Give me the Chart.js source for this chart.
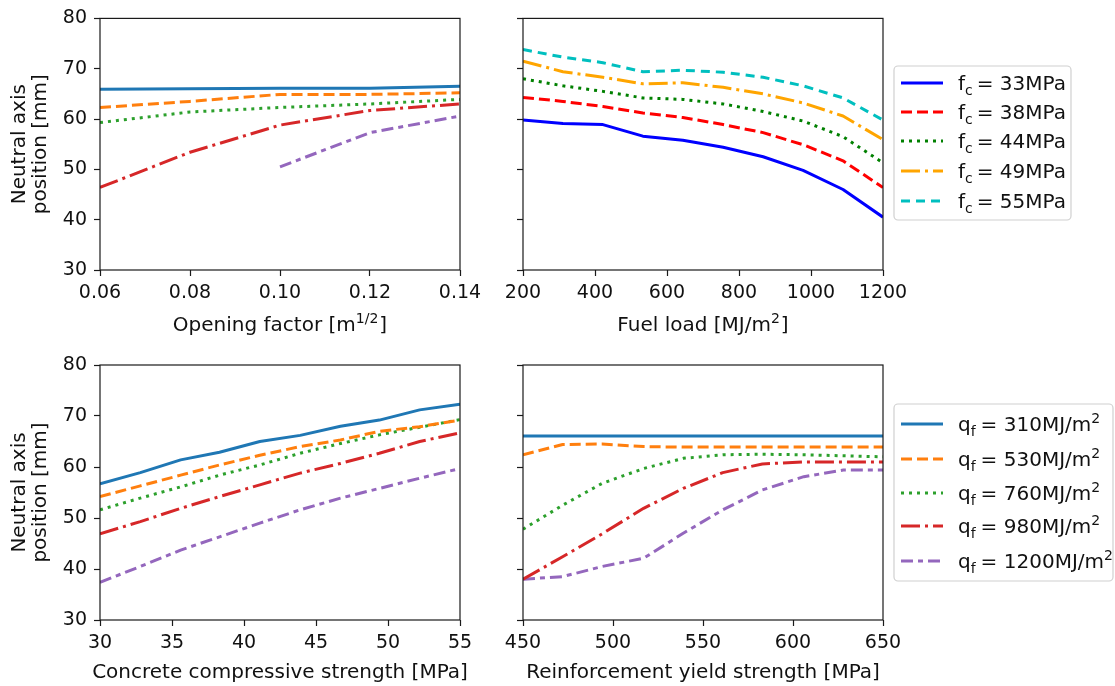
<!DOCTYPE html>
<html><head><meta charset="utf-8">
<script src="https://cdn.jsdelivr.net/npm/chart.js@4.4.1/dist/chart.umd.min.js"></script>
<style>
html,body{margin:0;padding:0;background:#fff;width:1115px;height:686px;overflow:hidden;}
canvas{position:absolute;}
</style></head><body>
<canvas id="cTL" width="490" height="340" style="left:0;top:0"></canvas>
<canvas id="cTR" width="625" height="340" style="left:490px;top:0"></canvas>
<canvas id="cBL" width="490" height="346" style="left:0;top:340px"></canvas>
<canvas id="cBR" width="625" height="346" style="left:490px;top:340px"></canvas>
<script>
// ---------- DATA ----------
const yTicks = [30, 40, 50, 60, 70, 80];

const openingFactor = [0.06, 0.08, 0.10, 0.12, 0.14];
const openingTickLabels = ['0.06', '0.08', '0.10', '0.12', '0.14'];
const of_q310  = [65.9, 66.0, 66.1, 66.1, 66.5];
const of_q530  = [62.3, 63.5, 64.9, 64.9, 65.2];
const of_q760  = [59.3, 61.4, 62.3, 63.0, 63.9];
const of_q980  = [46.4, 53.4, 58.8, 61.7, 63.0];
const of_q1200 = [null, null, 50.5, 57.3, 60.6];

const fuelLoad = [200, 311, 422, 533, 644, 756, 867, 978, 1089, 1200];
const fuelTicks = [200, 400, 600, 800, 1000, 1200];
const fl_fc33 = [59.8, 59.1, 58.9, 56.6, 55.8, 54.4, 52.5, 49.8, 46.0, 40.5];
const fl_fc38 = [64.3, 63.5, 62.5, 61.2, 60.3, 58.9, 57.3, 54.9, 51.7, 46.4];
const fl_fc44 = [68.0, 66.6, 65.5, 64.2, 63.9, 63.0, 61.5, 59.6, 56.5, 51.3];
const fl_fc49 = [71.5, 69.4, 68.3, 67.0, 67.2, 66.3, 65.0, 63.2, 60.6, 55.9];
const fl_fc55 = [73.8, 72.3, 71.2, 69.4, 69.7, 69.3, 68.3, 66.6, 64.2, 59.8];

const concreteStrength = [30, 32.8, 35.6, 38.3, 41.1, 43.9, 46.7, 49.4, 52.2, 55];
const concreteTicks = [30, 35, 40, 45, 50, 55];
const cs_q310  = [56.7, 58.9, 61.4, 62.9, 65.0, 66.2, 68.0, 69.2, 71.2, 72.3];
const cs_q530  = [54.2, 56.3, 58.4, 60.4, 62.3, 64.0, 65.3, 67.0, 67.9, 69.2];
const cs_q760  = [51.6, 53.9, 56.1, 58.4, 60.4, 62.7, 64.6, 66.3, 67.8, 69.3];
const cs_q980  = [46.9, 49.3, 51.9, 54.2, 56.5, 58.8, 60.7, 62.7, 65.0, 66.7];
const cs_q1200 = [37.4, 40.5, 43.7, 46.3, 49.0, 51.6, 53.9, 55.8, 57.8, 59.7];

const yieldStrength = [450, 472, 494, 517, 539, 561, 583, 606, 628, 650];
const yieldTicks = [450, 500, 550, 600, 650];
const ys_q310  = [66.1, 66.1, 66.1, 66.1, 66.1, 66.1, 66.1, 66.1, 66.1, 66.1];
const ys_q530  = [62.4, 64.4, 64.5, 64.0, 63.9, 63.9, 63.9, 63.9, 63.9, 63.9];
const ys_q760  = [47.8, 52.5, 56.8, 59.7, 61.7, 62.4, 62.5, 62.4, 62.2, 62.0];
const ys_q980  = [38.0, 42.4, 46.9, 51.9, 55.8, 58.9, 60.6, 61.0, 61.0, 61.0];
const ys_q1200 = [38.0, 38.5, 40.5, 42.1, 47.0, 51.6, 55.5, 58.1, 59.4, 59.4];

const fcValues = ['33', '38', '44', '49', '55'];
const qfValues = ['310', '530', '760', '980', '1200'];

// ---------- STYLES ----------
const FONT = "'DejaVu Sans', 'Liberation Sans', sans-serif";
const TICK_SIZE = 19, TITLE_SIZE = 20, LW = 3;
const DASH = { solid: [], dashed: [11, 5], dotted: [3, 5], dashdot: [19, 5, 3, 5], longshort: [12, 5, 5, 5], cyan: [9, 6] };
const qStyles = [
  { color: '#1f77b4', dash: DASH.solid },
  { color: '#ff7f0e', dash: DASH.dashed },
  { color: '#2ca02c', dash: DASH.dotted },
  { color: '#d62728', dash: DASH.dashdot },
  { color: '#9467bd', dash: DASH.longshort }
];
const fcStyles = [
  { color: '#0000ff', dash: DASH.solid },
  { color: '#ff0000', dash: DASH.dashed },
  { color: '#008000', dash: DASH.dotted },
  { color: '#ffa500', dash: DASH.dashdot },
  { color: '#00bfbf', dash: DASH.cyan }
];

function ds(xs, ys, st) {
  return {
    data: xs.map((x, i) => ({ x: x, y: ys[i] })),
    borderColor: st.color, borderWidth: LW, borderDash: st.dash,
    borderCapStyle: 'butt', borderJoinStyle: 'round',
    pointRadius: 0, fill: false, tension: 0, spanGaps: false
  };
}

function drawRich(ctx, segs, x, y, align) {
  const big = TITLE_SIZE, small = Math.round(TITLE_SIZE * 0.7);
  let total = 0;
  segs.forEach(s => {
    ctx.font = (s.k ? small : big) + 'px ' + FONT;
    total += ctx.measureText(s.t).width + (s.gap || 0);
  });
  let cx = align === 'center' ? x - total / 2 : x;
  ctx.textAlign = 'left'; ctx.textBaseline = 'alphabetic';
  segs.forEach(s => {
    ctx.font = (s.k ? small : big) + 'px ' + FONT;
    let dy = 0;
    if (s.k === 'sub') dy = 5;
    if (s.k === 'sup') dy = -8;
    ctx.fillText(s.t, cx, y + dy);
    cx += ctx.measureText(s.t).width + (s.gap || 0);
  });
}

function drawLegend(ctx, L) {
  ctx.save();
  const r = 4;
  ctx.beginPath();
  ctx.roundRect(L.x0, L.y0, L.x1 - L.x0, L.y1 - L.y0, r);
  ctx.fillStyle = 'rgba(255,255,255,0.9)';
  ctx.fill();
  ctx.strokeStyle = '#d0d0d0'; ctx.lineWidth = 1.2;
  ctx.stroke();
  L.items.forEach((it, i) => {
    const cy = L.ys[i];
    ctx.beginPath();
    ctx.setLineDash(it.style.dash);
    ctx.lineCap = 'butt';
    ctx.strokeStyle = it.style.color; ctx.lineWidth = LW;
    ctx.moveTo(L.lx0, cy); ctx.lineTo(L.lx1, cy); ctx.stroke();
    ctx.setLineDash([]);
    ctx.fillStyle = '#111';
    drawRich(ctx, it.text, L.tx, cy + 7, 'left');
  });
  ctx.restore();
}

const framePlugin = {
  id: 'frame',
  afterDraw(chart, args, opts) {
    const { ctx, chartArea: a } = chart;
    ctx.save();
    ctx.strokeStyle = '#1a1a1a'; ctx.lineWidth = 1.2;
    ctx.strokeRect(a.left, a.top, a.right - a.left, a.bottom - a.top);
    ctx.fillStyle = '#111';
    drawRich(ctx, opts.xTitle, (a.left + a.right) / 2, opts.xTitleY, 'center');
    if (opts.legend) drawLegend(ctx, opts.legend);
    ctx.restore();
  }
};

function makeChart(id, cfg) {
  const tickFont = { family: FONT, size: TICK_SIZE };
  new Chart(document.getElementById(id), {
    type: 'line',
    data: { datasets: cfg.datasets },
    plugins: [framePlugin],
    options: {
      responsive: false, animation: false, devicePixelRatio: 1,
      layout: { padding: { left: 0, top: cfg.top, right: cfg.right, bottom: 0 } },
      plugins: { legend: { display: false }, tooltip: { enabled: false },
        frame: { xTitle: cfg.xTitle, xTitleY: cfg.xTitleY, legend: cfg.legend } },
      scales: {
        x: {
          type: 'linear', min: cfg.xTicks[0], max: cfg.xTicks[cfg.xTicks.length - 1],
          afterBuildTicks: s => { s.ticks = cfg.xTicks.map(v => ({ value: v })); },
          afterFit: s => { s.height = cfg.xH; },
          ticks: { font: tickFont, color: '#111', padding: 6, maxRotation: 0, autoSkip: false,
            callback: (v, i) => cfg.xLabels ? cfg.xLabels[i] : String(cfg.xTicks[i]) },
          grid: { drawOnChartArea: false, drawTicks: true, tickLength: 6, tickColor: '#1a1a1a', tickWidth: 1.2 },
          border: { display: false }
        },
        y: {
          type: 'linear', min: 30, max: 80,
          afterBuildTicks: s => { s.ticks = yTicks.map(v => ({ value: v })); },
          afterFit: s => { s.width = cfg.yW; },
          ticks: { font: tickFont, color: '#111', padding: 7, autoSkip: false,
            callback: (v, i) => cfg.yLabels ? String(yTicks[i]) : '' },
          grid: { drawOnChartArea: false, drawTicks: true, tickLength: 6, tickColor: '#1a1a1a', tickWidth: 1.2 },
          border: { display: false },
          title: cfg.yLabels ? { display: true, text: ['Neutral axis', 'position [mm]'], color: '#111',
            font: { family: FONT, size: TITLE_SIZE, lineHeight: 1.05 }, padding: { top: 9, bottom: 0 } } : { display: false }
        }
      }
    }
  });
}

const fcLegendItems = fcValues.map((v, i) => ({
  style: fcStyles[i],
  text: [{ t: 'f' }, { t: 'c', k: 'sub', gap: 4 }, { t: '= ' + v + 'MPa' }]
}));
const qfLegendItems = qfValues.map((v, i) => ({
  style: qStyles[i],
  text: [{ t: 'q' }, { t: 'f', k: 'sub', gap: 5 }, { t: '= ' + v + 'MJ/m' }, { t: '2', k: 'sup' }]
}));

// Top-left: opening factor
makeChart('cTL', {
  datasets: [of_q310, of_q530, of_q760, of_q980, of_q1200].map((s, i) => ds(openingFactor, s, qStyles[i])),
  xTicks: openingFactor, xLabels: openingTickLabels, yLabels: true,
  top: 15, right: 30, xH: 70, yW: 100,
  xTitle: [{ t: 'Opening factor [m' }, { t: '1/2', k: 'sup', gap: 1 }, { t: ']' }], xTitleY: 331
});

// Top-right: fuel load
makeChart('cTR', {
  datasets: [fl_fc33, fl_fc38, fl_fc44, fl_fc49, fl_fc55].map((s, i) => ds(fuelLoad, s, fcStyles[i])),
  xTicks: fuelTicks, yLabels: false,
  top: 15, right: 232, xH: 70, yW: 33,
  xTitle: [{ t: 'Fuel load [MJ/m' }, { t: '2', k: 'sup', gap: 1 }, { t: ']' }], xTitleY: 331,
  legend: { x0: 404, y0: 66, x1: 581, y1: 220, lx0: 411, lx1: 453, tx: 468,
    ys: [83, 112, 141, 171, 201], items: fcLegendItems }
});

// Bottom-left: concrete compressive strength
makeChart('cBL', {
  datasets: [cs_q310, cs_q530, cs_q760, cs_q980, cs_q1200].map((s, i) => ds(concreteStrength, s, qStyles[i])),
  xTicks: concreteTicks, yLabels: true,
  top: 25, right: 30, xH: 66, yW: 100,
  xTitle: [{ t: 'Concrete compressive strength [MPa]' }], xTitleY: 338
});

// Bottom-right: reinforcement yield strength
makeChart('cBR', {
  datasets: [ys_q310, ys_q530, ys_q760, ys_q980, ys_q1200].map((s, i) => ds(yieldStrength, s, qStyles[i])),
  xTicks: yieldTicks, yLabels: false,
  top: 25, right: 232, xH: 66, yW: 33,
  xTitle: [{ t: 'Reinforcement yield strength [MPa]' }], xTitleY: 338,
  legend: { x0: 404, y0: 64, x1: 623, y1: 241, lx0: 411, lx1: 453, tx: 468,
    ys: [84, 119, 153, 186, 221], items: qfLegendItems }
});
</script>
</body></html>
